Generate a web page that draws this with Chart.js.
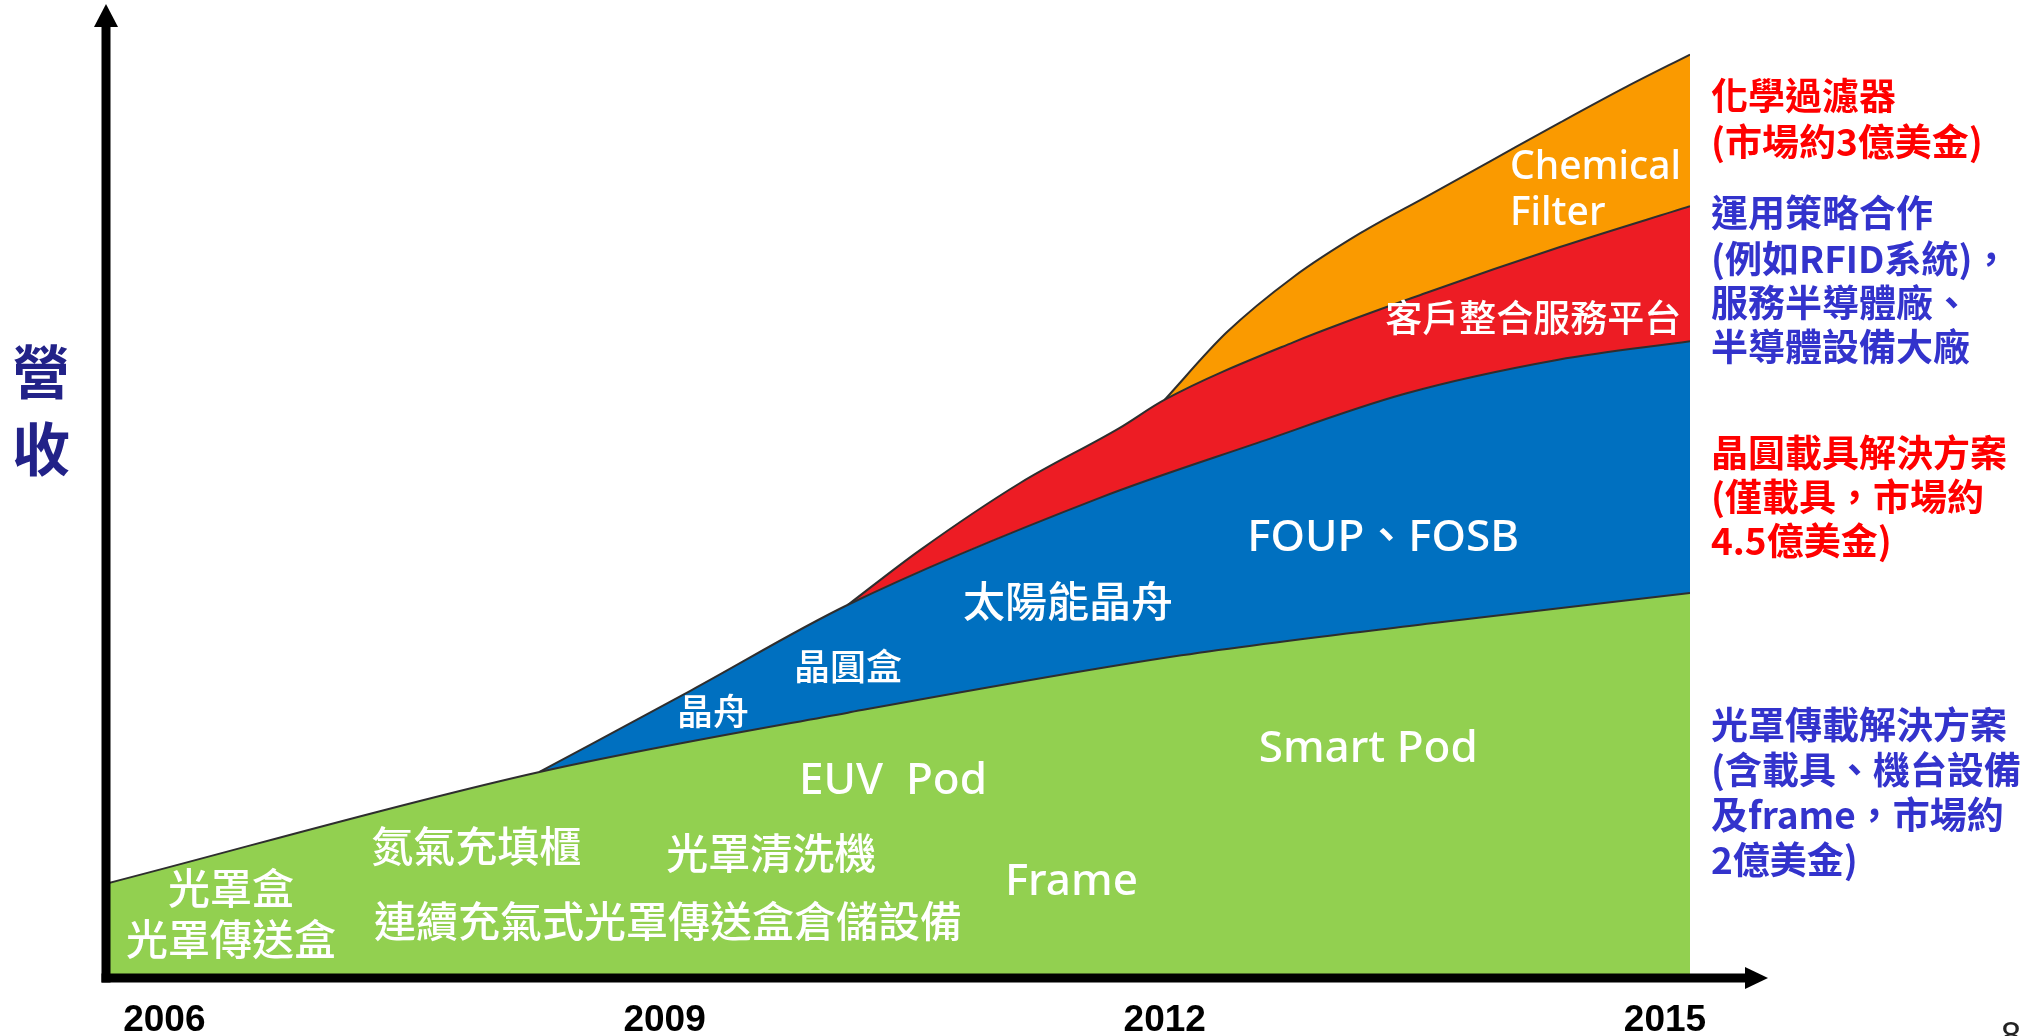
<!DOCTYPE html>
<html>
<head>
<meta charset="utf-8">
<title>營收</title>
<script src="https://cdn.jsdelivr.net/npm/chart.js@4.4.1/dist/chart.umd.min.js"></script>
<style>
  html, body { margin: 0; padding: 0; background: #fff; }
  #wrap { width: 2026px; height: 1036px; }
</style>
</head>
<body>
<div id="wrap"><canvas id="chart" width="2026" height="1036"></canvas></div>
<script>
// x = year, y = revenue (relative, 0-100). each band gives its top edge (stacked).
const yearTicks = [2006, 2009, 2012, 2015];

const reticleYears = [2005.65, 2008.25, 2010.1, 2012.1, 2013.6, 2015.15];
const reticleTop   = [9.7, 21.2, 27.3, 33.2, 36.5, 39.6];

const waferYears = [2008.25, 2009.16, 2010.1, 2011.61, 2012.53, 2013.44, 2014.36, 2015.15];
const waferTop   = [21.2, 29.6, 38.4, 49.4, 54.9, 60.1, 63.6, 65.5];

const serviceYears = [2010.1, 2010.53, 2011.13, 2011.73, 2012.0, 2012.77, 2013.57, 2014.37, 2015.15];
const serviceTop   = [38.4, 44.0, 50.9, 56.6, 59.5, 65.4, 70.5, 75.2, 79.4];

const filterYears = [2012.0, 2012.37, 2012.77, 2013.17, 2013.57, 2013.97, 2014.37, 2014.77, 2015.15];
const filterTop   = [59.5, 66.4, 72.1, 76.6, 80.4, 84.2, 88.0, 91.7, 95.0];

const toPoints = (xs, ys) => xs.map((x, i) => ({ x: x, y: ys[i] }));

const LATIN = '"Noto Sans", "Noto Sans CJK TC", sans-serif';
const CJK = '"Noto Sans CJK TC", "Noto Sans", sans-serif';

// labels inside the bands, placed in data units
const bandLabels = [
  { text: '光罩盒', at: [2006.4, 8.8], size: 42 },
  { text: '光罩傳送盒', at: [2006.4, 3.6], size: 42 },
  { text: '氮氣充填櫃', at: [2007.87, 13.2], size: 42 },
  { text: '連續充氣式光罩傳送盒倉儲設備', at: [2009.02, 5.5], size: 42 },
  { text: '光罩清洗機', at: [2009.64, 12.4], size: 42 },
  { text: 'EUV  Pod', at: [2010.37, 20.2], size: 44 },
  { text: 'Frame', at: [2011.44, 9.8], size: 44 },
  { text: 'Smart Pod', at: [2013.22, 23.5], size: 44 },
  { text: '晶舟', at: [2009.29, 27.1], size: 36 },
  { text: '晶圓盒', at: [2010.1, 31.7], size: 36 },
  { text: '太陽能晶舟', at: [2011.42, 38.4], size: 42 },
  { text: 'FOUP、FOSB', at: [2013.31, 45.2], size: 44 },
  { text: '客戶整合服務平台', at: [2014.21, 67.5], size: 37 },
  { text: 'Chemical', at: [2014.07, 83.3], size: 39, align: 'left' },
  { text: 'Filter', at: [2014.07, 78.6], size: 39, align: 'left' }
];

// notes to the right of the chart
const RED = '#FF0000', BLUE = '#3333CC';
const sideNotes = [
  { text: '化學過濾器', color: RED, y: 96 },
  { text: '(市場約3億美金)', color: RED, y: 142 },
  { text: '運用策略合作', color: BLUE, y: 213 },
  { text: '(例如RFID系統)，', color: BLUE, y: 259 },
  { text: '服務半導體廠、', color: BLUE, y: 303 },
  { text: '半導體設備大廠', color: BLUE, y: 347 },
  { text: '晶圓載具解決方案', color: RED, y: 453 },
  { text: '(僅載具，市場約', color: RED, y: 497 },
  { text: '4.5億美金)', color: RED, y: 541 },
  { text: '光罩傳載解決方案', color: BLUE, y: 725 },
  { text: '(含載具、機台設備', color: BLUE, y: 770 },
  { text: '及frame，市場約', color: BLUE, y: 815 },
  { text: '2億美金)', color: BLUE, y: 860 }
];

const arrowAxes = {
  id: 'arrowAxes',
  afterDatasetsDraw(chart) {
    const ctx = chart.ctx, a = chart.chartArea;
    ctx.save();
    ctx.fillStyle = '#000';
    // vertical axis with arrow
    ctx.fillRect(a.left - 4.5, a.top + 18, 9, a.bottom - a.top - 18 + 4.5);
    ctx.beginPath();
    ctx.moveTo(a.left, a.top - 2);
    ctx.lineTo(a.left + 12, a.top + 21);
    ctx.lineTo(a.left - 12, a.top + 21);
    ctx.closePath();
    ctx.fill();
    // horizontal axis with arrow
    ctx.fillRect(a.left - 4.5, a.bottom - 4.5, a.right + 57 - (a.left - 4.5), 9);
    ctx.beginPath();
    ctx.moveTo(a.right + 78, a.bottom);
    ctx.lineTo(a.right + 55, a.bottom - 11);
    ctx.lineTo(a.right + 55, a.bottom + 11);
    ctx.closePath();
    ctx.fill();
    ctx.restore();
  }
};

const textLayer = {
  id: 'textLayer',
  afterDraw(chart) {
    const ctx = chart.ctx, xs = chart.scales.x, ys = chart.scales.y, a = chart.chartArea;
    ctx.save();
    ctx.textBaseline = 'middle';
    ctx.fillStyle = '#fff';
    bandLabels.forEach(l => {
      ctx.font = '500 ' + l.size + 'px ' + LATIN;
      ctx.textAlign = l.align || 'center';
      ctx.fillText(l.text, xs.getPixelForValue(l.at[0]), ys.getPixelForValue(l.at[1]));
    });

    ctx.textAlign = 'left';
    ctx.font = 'bold 37px ' + CJK;
    sideNotes.forEach(n => {
      ctx.fillStyle = n.color;
      ctx.fillText(n.text, a.right + 21, n.y);
    });

    // axis title
    ctx.fillStyle = '#222288';
    ctx.textAlign = 'center';
    ctx.font = 'bold 58px ' + CJK;
    ctx.fillText('營', 41, 372);
    ctx.fillText('收', 41, 449);

    // slide number, cut off by the page edge
    ctx.fillStyle = '#222';
    ctx.textBaseline = 'alphabetic';
    ctx.font = '36px "Liberation Sans", Arial, sans-serif';
    ctx.fillText('8', 2011, 1048);
    ctx.restore();
  }
};

const edge = '#2e2e2e';
new Chart(document.getElementById('chart'), {
  type: 'line',
  data: {
    datasets: [
      { label: '光罩傳載解決方案', data: toPoints(reticleYears, reticleTop), backgroundColor: '#92D050', fill: 'origin' },
      { label: '晶圓載具解決方案', data: toPoints(waferYears, waferTop), backgroundColor: '#0070C0', fill: '-1' },
      { label: '客戶整合服務平台', data: toPoints(serviceYears, serviceTop), backgroundColor: '#ED1C24', fill: '-1' },
      { label: 'Chemical Filter', data: toPoints(filterYears, filterTop), backgroundColor: '#FA9A00', fill: '-1' }
    ]
  },
  options: {
    responsive: false,
    animation: false,
    layout: { padding: { left: 106, right: 336, top: 6, bottom: 0 } },
    elements: {
      point: { radius: 0 },
      line: { borderWidth: 2, borderColor: edge, cubicInterpolationMode: 'monotone' }
    },
    plugins: { legend: { display: false }, tooltip: { enabled: false } },
    scales: {
      x: {
        type: 'linear',
        min: 2005.65,
        max: 2015.15,
        grid: { display: false, drawTicks: false },
        border: { display: false },
        afterBuildTicks: s => { s.ticks = yearTicks.map(v => ({ value: v })); },
        afterFit: s => { s.height = 58; },
        ticks: {
          autoSkip: false,
          maxRotation: 0,
          padding: 21,
          color: '#000',
          font: { family: '"Liberation Sans", Arial, sans-serif', size: 37, weight: 'bold' },
          callback: v => String(v)
        }
      },
      y: { display: false, min: 0, max: 100 }
    }
  },
  plugins: [arrowAxes, textLayer]
});
</script>
</body>
</html>
